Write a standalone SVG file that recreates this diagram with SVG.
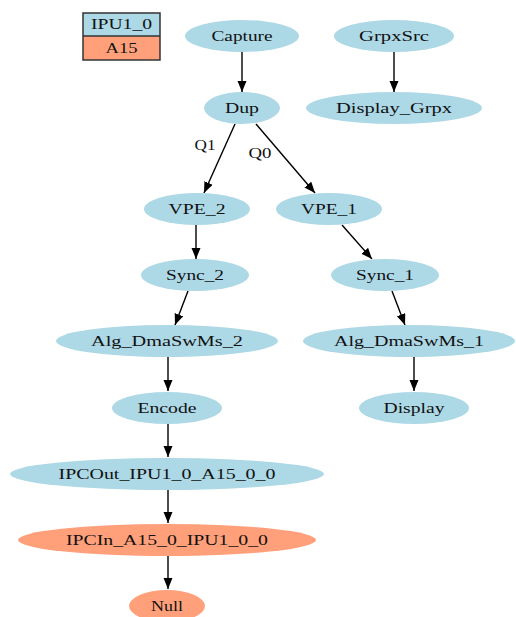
<svg xmlns="http://www.w3.org/2000/svg" width="516" height="617" viewBox="0 0 516 617">
<style>
.b{fill:#add8e6;stroke:none}
.s{fill:#ffa07a;stroke:none}
text{font-family:"Liberation Serif","Times New Roman",serif;font-size:14px;fill:#111;text-anchor:middle}
.e{stroke:#000;stroke-width:1.4;fill:none;marker-end:url(#ah)}
</style>
<defs>
<marker id="ah" markerUnits="userSpaceOnUse" markerWidth="12" markerHeight="10" refX="11" refY="4.5" orient="auto">
<path d="M0,0 L11,4.5 L0,9 z" fill="#000"/>
</marker>
</defs>
<rect width="516" height="617" fill="#fff"/>
<g id="legend">
<rect x="83" y="13" width="77" height="23" class="b"/>
<rect x="83" y="36" width="77" height="24" class="s"/>
<rect x="83" y="13" width="77" height="47" fill="none" stroke="#333" stroke-width="1.5"/>
<line x1="83" y1="36" x2="160" y2="36" stroke="#333" stroke-width="1.5"/>
<text x="121.5" y="29" textLength="61" lengthAdjust="spacingAndGlyphs">IPU1_0</text>
<text x="121.5" y="52.5" textLength="32" lengthAdjust="spacingAndGlyphs">A15</text>
</g>
<g id="edges">
<line class="e" x1="242" y1="52" x2="242" y2="92"/>
<line class="e" x1="394" y1="52" x2="394" y2="92"/>
<line class="e" x1="235" y1="124" x2="204" y2="193"/>
<line class="e" x1="256" y1="124" x2="315" y2="193"/>
<line class="e" x1="196" y1="225" x2="196" y2="259"/>
<line class="e" x1="342" y1="225" x2="372" y2="259"/>
<line class="e" x1="188" y1="291" x2="175" y2="325"/>
<line class="e" x1="392" y1="291" x2="405" y2="325"/>
<line class="e" x1="168" y1="357" x2="168" y2="391"/>
<line class="e" x1="414" y1="357" x2="414" y2="391"/>
<line class="e" x1="168" y1="424" x2="168" y2="457"/>
<line class="e" x1="168" y1="490" x2="168" y2="523"/>
<line class="e" x1="168" y1="556" x2="168" y2="589"/>
<text x="205" y="150" textLength="21" lengthAdjust="spacingAndGlyphs">Q1</text>
<text x="260" y="158" textLength="23" lengthAdjust="spacingAndGlyphs">Q0</text>
</g>
<g id="Capture"><ellipse cx="242" cy="36" rx="57" ry="16" class="b"/><text x="242" y="41" textLength="61" lengthAdjust="spacingAndGlyphs">Capture</text></g>
<g id="GrpxSrc"><ellipse cx="394" cy="36" rx="60" ry="16" class="b"/><text x="394" y="41" textLength="70" lengthAdjust="spacingAndGlyphs">GrpxSrc</text></g>
<g id="Dup"><ellipse cx="242" cy="108" rx="38" ry="16" class="b"/><text x="242" y="113" textLength="34" lengthAdjust="spacingAndGlyphs">Dup</text></g>
<g id="Display_Grpx"><ellipse cx="394" cy="108" rx="88" ry="16" class="b"/><text x="394" y="113" textLength="116" lengthAdjust="spacingAndGlyphs">Display_Grpx</text></g>
<g id="VPE_2"><ellipse cx="197" cy="209" rx="53" ry="16" class="b"/><text x="197" y="214" textLength="57" lengthAdjust="spacingAndGlyphs">VPE_2</text></g>
<g id="VPE_1"><ellipse cx="329" cy="209" rx="53" ry="16" class="b"/><text x="329" y="214" textLength="56" lengthAdjust="spacingAndGlyphs">VPE_1</text></g>
<g id="Sync_2"><ellipse cx="195" cy="275" rx="54" ry="16" class="b"/><text x="195" y="280" textLength="58" lengthAdjust="spacingAndGlyphs">Sync_2</text></g>
<g id="Sync_1"><ellipse cx="385" cy="275" rx="54" ry="16" class="b"/><text x="385" y="280" textLength="58" lengthAdjust="spacingAndGlyphs">Sync_1</text></g>
<g id="Alg_DmaSwMs_2"><ellipse cx="167" cy="341" rx="111" ry="16" class="b"/><text x="167" y="346" textLength="152" lengthAdjust="spacingAndGlyphs">Alg_DmaSwMs_2</text></g>
<g id="Alg_DmaSwMs_1"><ellipse cx="409" cy="341" rx="106" ry="16" class="b"/><text x="409" y="346" textLength="150" lengthAdjust="spacingAndGlyphs">Alg_DmaSwMs_1</text></g>
<g id="Encode"><ellipse cx="167" cy="408" rx="55" ry="16" class="b"/><text x="167" y="413" textLength="59" lengthAdjust="spacingAndGlyphs">Encode</text></g>
<g id="Display"><ellipse cx="414" cy="408" rx="55" ry="16" class="b"/><text x="414" y="413" textLength="61" lengthAdjust="spacingAndGlyphs">Display</text></g>
<g id="IPCOut_IPU1_0_A15_0_0"><ellipse cx="167" cy="474" rx="157" ry="16" class="b"/><text x="167" y="479" textLength="217" lengthAdjust="spacingAndGlyphs">IPCOut_IPU1_0_A15_0_0</text></g>
<g id="IPCIn_A15_0_IPU1_0_0"><ellipse cx="167" cy="540" rx="149" ry="16" class="s"/><text x="167" y="545" textLength="202" lengthAdjust="spacingAndGlyphs">IPCIn_A15_0_IPU1_0_0</text></g>
<g id="Null"><ellipse cx="167" cy="606" rx="38" ry="16" class="s"/><text x="167" y="611" textLength="32" lengthAdjust="spacingAndGlyphs">Null</text></g>
</svg>
